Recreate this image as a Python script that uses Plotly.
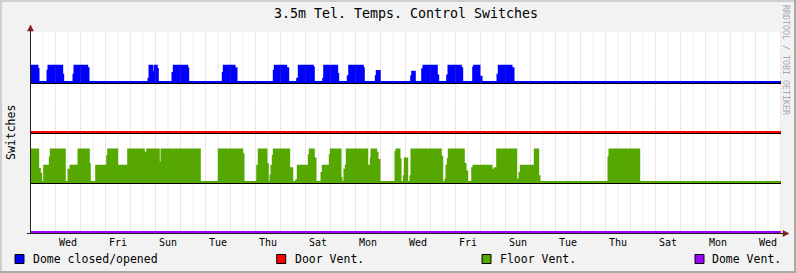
import plotly.graph_objects as go

# ---------------- data (time in days from chart start) ----------------
t_start, t_end = 0.02, 30.02

label_days = [1.5, 3.5, 5.5, 7.5, 9.5, 11.5, 13.5, 15.5, 17.5, 19.5, 21.5, 23.5, 25.5, 27.5, 29.5]
day_labels = ["Wed", "Fri", "Sun", "Tue", "Thu", "Sat", "Mon", "Wed",
              "Fri", "Sun", "Tue", "Thu", "Sat", "Mon", "Wed"]

# Dome closed/opened (step changes: time -> value, 0..1)
dome_t = [0.02, 0.28, 0.32, 0.68, 0.72, 1.12, 1.20, 1.268, 1.308, 1.72, 1.76, 2.268, 2.32,
          4.72, 4.76, 4.86, 4.96, 5.052, 5.092, 5.68, 5.732, 6.268, 6.308,
          7.692, 7.732, 8.16, 8.24, 9.732, 9.772, 10.228, 10.308,
          10.668, 10.732, 11.292, 11.332, 11.708, 11.748, 11.96, 12.012, 12.108, 12.188,
          12.268, 12.308, 12.692, 12.748, 13.292, 13.332, 13.812, 13.852, 13.972,
          15.228, 15.268, 15.372, 15.668, 15.72, 16.252, 16.308, 16.668, 16.72,
          17.212, 17.268, 17.708, 17.748, 17.96, 18.04, 18.68, 18.732, 19.24, 19.32, 30.02]
dome_v = [1, 0.8, 0, 0.7, 1, 0.9, 1, 0.45, 0, 0.45, 1, 0.85, 0,
          0.2, 1, 0.6, 1, 0.8, 0, 0.55, 1, 0.85, 0,
          0.55, 1, 0.85, 0, 0.7, 1, 0.85, 0,
          0.2, 1, 0.9, 0, 0.2, 1, 0.4, 1, 0.35, 1,
          0.5, 0, 0.35, 1, 0.85, 0, 0.35, 0.68, 0,
          0.35, 0.63, 0, 0.78, 1, 0.4, 0, 0.4, 1,
          0.85, 0, 0.9, 1, 0.32, 0, 0.45, 1, 0.85, 0, 0]

# Floor Vent. (step changes: time -> value, 0..2)
floor_t = [0.02, 0.308, 0.372, 0.428, 0.548, 0.772, 0.812, 1.372, 1.52, 1.6, 1.92, 2.332, 2.372,
           2.628, 3.068, 3.108, 3.468, 3.548, 3.908, 4.532, 4.612, 4.668, 5.132, 5.24,
           6.772, 7.532, 8.468, 8.52, 9.068, 9.132, 9.44, 9.492, 9.6, 9.64, 9.692, 9.732,
           10.348, 10.468, 10.628, 10.692, 11.132, 11.172, 11.332, 11.4, 11.64, 11.692,
           11.972, 12.012, 12.4, 12.44, 12.56, 12.612, 12.652, 13.468, 13.532, 13.612, 13.64,
           13.828, 13.88, 13.96, 14.6, 14.64, 14.76, 14.8, 14.932, 14.972, 15.068, 15.2, 15.24,
           16.412, 16.468, 16.6, 16.64, 16.692, 16.732, 17.332, 17.4, 17.468, 17.668, 17.72,
           18.44, 18.492, 18.572, 18.668, 19.428, 19.508, 19.56, 19.612, 20.108, 20.172,
           20.308, 20.36, 23.12, 23.16, 24.348, 30.02]
floor_v = [2, 0.8, 0.5, 0, 1, 1.5, 2, 0, 0.75, 1, 2, 1.1, 0,
           1, 1.6, 2, 0.75, 1, 2, 1.6, 1.8, 2, 1.2, 2,
           0, 2, 1.7, 0, 1, 2, 1.1, 0, 0.4, 1, 1.6, 2,
           0.85, 0, 0.1, 1, 1.65, 2, 1.45, 0, 0.55, 1,
           1.65, 2, 0.25, 0, 0.75, 1, 2, 0.65, 1, 1.45, 2,
           1.8, 1.35, 0, 1.85, 2, 1.4, 0, 0.35, 1.45, 0, 0.35, 2,
           1.55, 0, 0.15, 1, 1.4, 2, 1.1, 0.65, 0, 0.85, 1,
           0.75, 0, 0.85, 2, 0.15, 0, 0.55, 1, 0.75, 2,
           0.35, 0, 1.5, 2, 0, 0]

# Door Vent. and Dome Vent. (constant off)
door_t = [0.02, 30.02]
door_v = [0, 0]
dvent_t = [0.02, 30.02]
dvent_v = [0, 0]

series_names = ["Dome closed/opened", "Door Vent.", "Floor Vent.", "Dome Vent."]
series_colors = ["#0000ff", "#ff0000", "#54a800", "#a000ff"]

# ---------------- styling constants ----------------
W, H = 796, 273
ML, MR, MT, MB = 31, 15, 32, 40
Y0, Y1 = 0.01, 4.03
STEP_H = 0.325      # height of one switch unit
LIFT = 0.03         # coloured line sits just above black baseline
FONT = "DejaVu Sans Mono"
BG = "#f2f2f2"


def px(x):
    return (x - ML) / (W - ML - MR)


def py(y):
    return (H - MB - y) / (H - MT - MB)


fig = go.Figure()

def add_series(t, v, offset, color, fill):
    ys = [offset + LIFT + STEP_H * val for val in v]
    if fill:
        fig.add_trace(go.Scatter(x=[t_start, t_end], y=[offset, offset], mode="lines",
                                 line=dict(width=0, color=color), hoverinfo="skip",
                                 showlegend=False))
    fig.add_trace(go.Scatter(x=t, y=ys, mode="lines", line=dict(color=color, width=2, shape="hv"),
                             fill="tonexty" if fill else None, fillcolor=color,
                             showlegend=False, hoverinfo="skip"))

add_series(dome_t, dome_v, 3, series_colors[0], True)
add_series(door_t, door_v, 2, series_colors[1], False)
add_series(floor_t, floor_v, 1, series_colors[2], True)
add_series(dvent_t, dvent_v, 0, series_colors[3], False)

for off in [3, 2, 1]:
    fig.add_trace(go.Scatter(x=[t_start, t_end], y=[off, off], mode="lines",
                             line=dict(color="#000000", width=1), showlegend=False,
                             hoverinfo="skip"))

shapes = []
# dotted grid
for d in range(1, 31):
    shapes.append(dict(type="line", xref="x", yref="paper", x0=d, x1=d, y0=0, y1=1,
                       line=dict(color="rgba(222,80,80,0.32)", width=1, dash="1px,1px"),
                       layer="above"))
for d in range(0, 30):
    shapes.append(dict(type="line", xref="x", yref="paper", x0=d + 0.5, x1=d + 0.5, y0=0, y1=1,
                       line=dict(color="rgba(140,140,140,0.3)", width=1, dash="1px,1px"),
                       layer="above"))

# frame (3D border)
shapes += [
    dict(type="rect", xref="paper", yref="paper", x0=px(0), x1=px(W), y0=py(0), y1=py(2),
         line=dict(width=0), fillcolor="#cfcfcf", layer="below"),
    dict(type="rect", xref="paper", yref="paper", x0=px(0), x1=px(2), y0=py(0), y1=py(H),
         line=dict(width=0), fillcolor="#cfcfcf", layer="below"),
    dict(type="rect", xref="paper", yref="paper", x0=px(0), x1=px(W), y0=py(H - 2), y1=py(H),
         line=dict(width=0), fillcolor="#a8a8a8", layer="below"),
    dict(type="rect", xref="paper", yref="paper", x0=px(W - 2), x1=px(W), y0=py(0), y1=py(H),
         line=dict(width=0), fillcolor="#a8a8a8", layer="below"),
]

# axis extensions, ticks and arrows
AX = "#1f1f1f"
ARROW = "#7f1f1f"
shapes += [
    dict(type="line", xref="paper", yref="paper", x0=px(30.5), x1=px(30.5), y0=py(28), y1=py(32),
         line=dict(color=AX, width=1)),
    dict(type="line", xref="paper", yref="paper", x0=px(781), x1=px(785), y0=py(233.5), y1=py(233.5),
         line=dict(color=AX, width=1)),
    dict(type="line", xref="paper", yref="paper", x0=px(27), x1=px(31), y0=py(233.5), y1=py(233.5),
         line=dict(color=AX, width=1)),
    dict(type="path", xref="paper", yref="paper",
         path=f"M {px(27.5)},{py(31)} L {px(33.5)},{py(31)} L {px(30.5)},{py(25)} Z",
         fillcolor=ARROW, line=dict(color=ARROW, width=0.5)),
    dict(type="path", xref="paper", yref="paper",
         path=f"M {px(783)},{py(230.5)} L {px(783)},{py(236.5)} L {px(789)},{py(233.5)} Z",
         fillcolor=ARROW, line=dict(color=ARROW, width=0.5)),
]

# legend boxes
box_left = [15, 276.7, 482, 695]
text_left = [30.7, 292.7, 497.7, 710.3]
annotations = []
for name, col, bx, tx in zip(series_names, series_colors, box_left, text_left):
    shapes.append(dict(type="rect", xref="paper", yref="paper", x0=px(bx), x1=px(bx + 9),
                       y0=py(263.5), y1=py(254.5), fillcolor=col,
                       line=dict(color="#000000", width=1)))
    annotations.append(dict(text=name, xref="paper", yref="paper", x=px(tx), y=py(259.2),
                            xanchor="left", yanchor="middle", showarrow=False,
                            font=dict(family=FONT, size=11.5, color="#000000")))

# y title and watermark
annotations.append(dict(text="Switches", xref="paper", yref="paper", x=px(10.5), y=py(132.5),
                        textangle=-90, showarrow=False, xanchor="center", yanchor="middle",
                        font=dict(family=FONT, size=11.5, color="#000000")))
annotations.append(dict(text="RRDTOOL / TOBI OETIKER", xref="paper", yref="paper", x=px(786),
                        y=py(60), textangle=90, showarrow=False, xanchor="center",
                        yanchor="middle", font=dict(family=FONT, size=8.3, color="#a8a8a8")))

fig.update_layout(
    width=W, height=H,
    margin=dict(l=ML, r=MR, t=MT, b=MB, pad=0),
    paper_bgcolor=BG, plot_bgcolor="#ffffff",
    title=dict(text="3.5m Tel. Temps. Control Switches", x=0.5, xref="paper",
               y=1 - 13.7 / H, yref="container", xanchor="center", yanchor="middle",
               font=dict(family=FONT, size=13.3, color="#000000")),
    xaxis=dict(range=[t_start, t_end], showgrid=False, zeroline=False, showline=True,
               linecolor=AX, linewidth=1, tickmode="array", tickvals=label_days,
               ticktext=day_labels, ticks="", tickfont=dict(family=FONT, size=10, color="#000000"),
               fixedrange=True),
    yaxis=dict(range=[Y0, Y1], showgrid=False, zeroline=False, showline=True, linecolor=AX,
               linewidth=1, showticklabels=False, ticks="", fixedrange=True),
    shapes=shapes, annotations=annotations, showlegend=False,
)

fig.write_html("out.html")
